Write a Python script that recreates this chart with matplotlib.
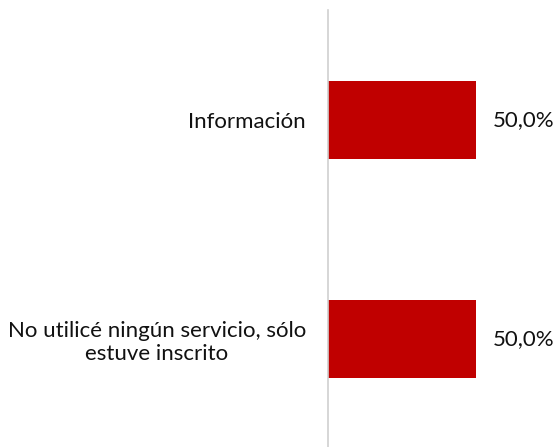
import matplotlib
matplotlib.use("Agg")
import matplotlib.pyplot as plt

categorias = ["No utilicé ningún servicio, sólo\nestuve inscrito", "Información"]
valores = [0.50, 0.50]
etiquetas = ["50,0%", "50,0%"]

plt.rcParams['font.family'] = ['Lato', 'DejaVu Sans']

fig = plt.figure(figsize=(5.6, 4.47), dpi=100)
ax = fig.add_axes([328/560, 0, 1 - 328/560, 437/447])

y = list(range(len(categorias)))
ax.barh(y, valores, height=0.355, color="#C00000")
ax.set_xlim(0, 0.784)
ax.set_ylim(-0.49, 1.5)

# etiquetas de valor a la derecha de cada barra
for yi, v, t in zip(y, valores, etiquetas):
    ax.text(v + 0.057, yi, t, va="center", ha="left", fontsize=16, color="#111111")

ax.set_yticks(y)
ax.set_yticklabels(categorias, fontsize=16, color="#111111", ha="right",
                   multialignment="center", linespacing=1.15)
ax.tick_params(axis="y", length=0, pad=16)
ax.set_xticks([])
for s in ["top", "right", "bottom"]:
    ax.spines[s].set_visible(False)
ax.spines["left"].set_color("#d0d0d0")
ax.spines["left"].set_linewidth(1.2)

fig.savefig("out.png", dpi=100)
